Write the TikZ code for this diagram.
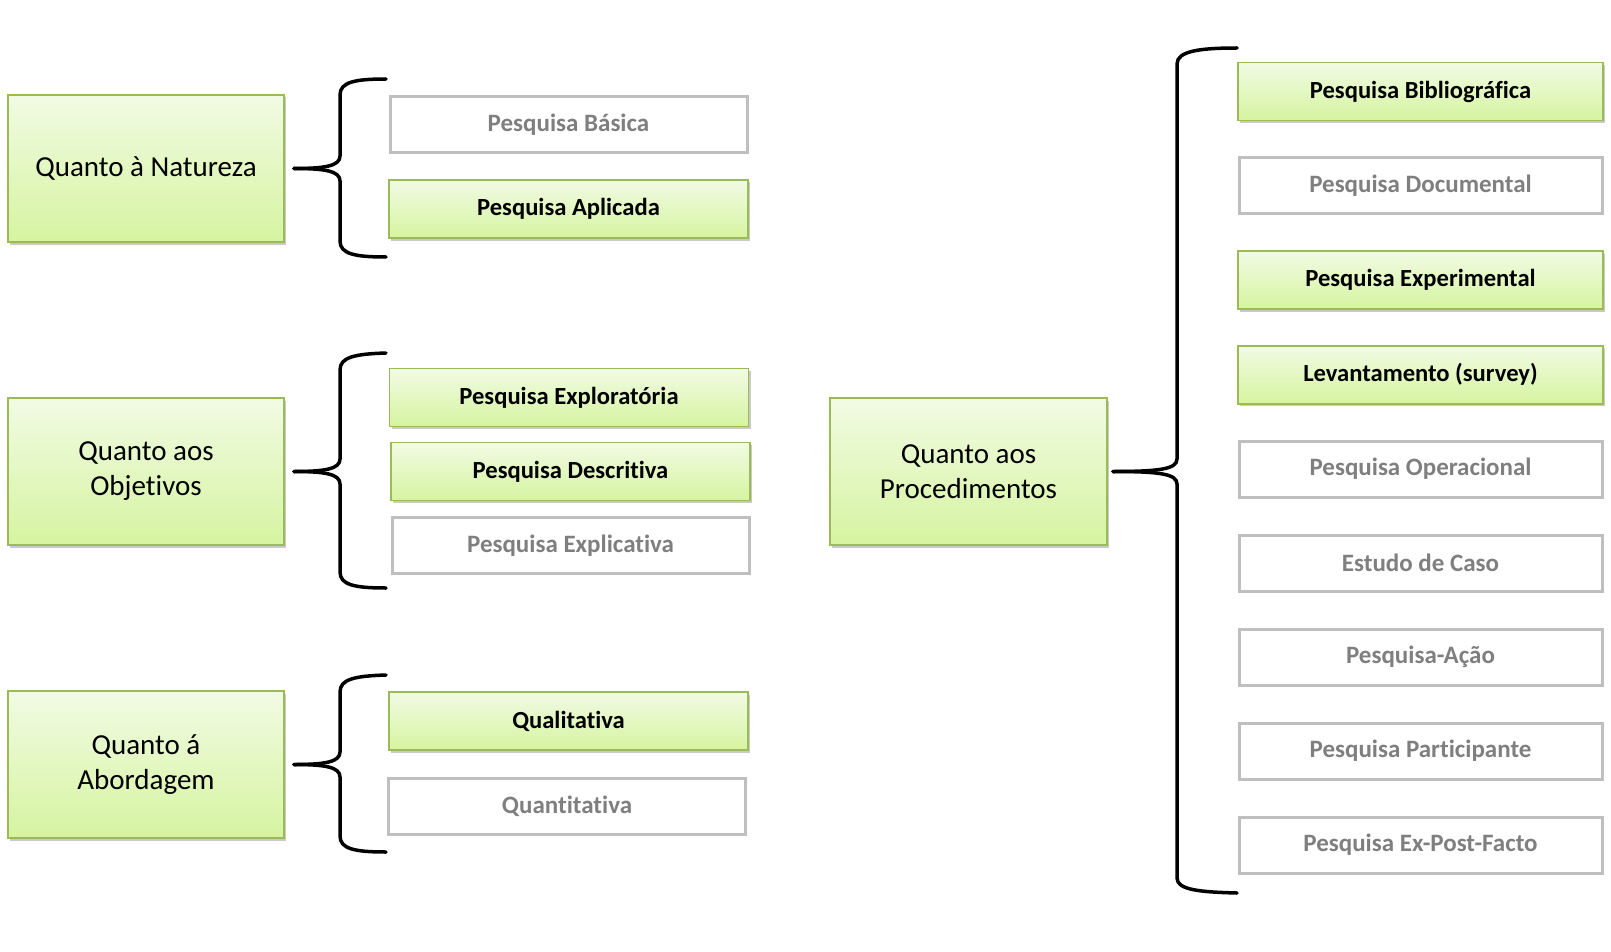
\documentclass[tikz,border=0pt]{standalone}
\usepackage{fontspec}
\setmainfont[Ligatures=NoCommon]{Carlito}
\usetikzlibrary{positioning, shadows}
\definecolor{verdetopo}{HTML}{F1FBE4}
\definecolor{verdebase}{HTML}{D6F4A0}
\definecolor{verdeborda}{HTML}{9BBB59}
\definecolor{cinzaborda}{HTML}{BFBFBF}
\definecolor{cinzatexto}{HTML}{7F7F7F}

\begin{document}
\begin{tikzpicture}[x=1pt,y=-1pt,node distance=35pt]
  \tikzset{
    base/.style={rectangle,inner sep=2pt,align=center},
    grupo/.style={base,draw=verdeborda,line width=1.6pt,top color=verdetopo,bottom color=verdebase,
      minimum width=276pt,minimum height=147pt,font=\fontsize{29}{35}\selectfont,
      drop shadow={shadow xshift=2pt,shadow yshift=-2.5pt,opacity=.35,fill=black!60}},
    ativo/.style={base,draw=verdeborda,line width=1.6pt,top color=verdetopo,bottom color=verdebase,
      minimum width=359pt,minimum height=58pt,font=\fontsize{24.6}{29}\selectfont\bfseries,
      drop shadow={shadow xshift=2pt,shadow yshift=-2.5pt,opacity=.35,fill=black!60}},
    inativo/.style={base,draw=cinzaborda,line width=3pt,fill=white,text=cinzatexto,
      minimum width=357pt,minimum height=56pt,font=\fontsize{25}{29}\selectfont\bfseries},
    chave/.style={line width=3.5pt,line cap=round,line join=round}
  }
  \useasboundingbox (0,0) rectangle (1611,952);

  % grupos
  \node[grupo] (natureza)   at (146,168.5)  {Quanto à Natureza};
  \node[grupo] (objetivos)  at (146,471.5)  {Quanto aos\\Objetivos};
  \node[grupo] (abordagem)  at (146,764.5)  {Quanto á\\Abordagem};
  \node[grupo,minimum width=277pt] (procedimentos) at (968.5,471.5) {Quanto aos\\Procedimentos};

  % natureza
  \node[inativo] (basica)   at (568.5,124.5) {Pesquisa Básica};
  \node[ativo]   (aplicada) at (568.5,209)   {Pesquisa Aplicada};

  % objetivos
  \node[ativo]   (exploratoria) at (569,397.5)   {Pesquisa Exploratória};
  \node[ativo]   (descritiva)   at (570.5,471.5) {Pesquisa Descritiva};
  \node[inativo] (explicativa)  at (570.5,545.5) {Pesquisa Explicativa};

  % abordagem
  \node[ativo]   (qualitativa)  at (568.5,721) {Qualitativa};
  \node[inativo] (quantitativa) at (567,806)   {Quantitativa};

  % procedimentos
  \node[ativo,minimum width=365pt]    (bibliografica) at (1420.5,91.5) {Pesquisa Bibliográfica};
  \node[inativo,minimum width=363pt]  (documental)   [below=of bibliografica] {Pesquisa Documental};
  \node[ativo,minimum width=365pt]    (experimental) [below=of documental]    {Pesquisa Experimental};
  \node[ativo,minimum width=365pt]    (levantamento) [below=of experimental]  {Levantamento (survey)};
  \node[inativo,minimum width=363pt]  (operacional)  [below=of levantamento]  {Pesquisa Operacional};
  \node[inativo,minimum width=363pt]  (estudo)       [below=of operacional]   {Estudo de Caso};
  \node[inativo,minimum width=363pt]  (acao)         [below=of estudo]        {Pesquisa-Ação};
  \node[inativo,minimum width=363pt]  (participante) [below=of acao]          {Pesquisa Participante};
  \node[inativo,minimum width=363pt]  (expost)       [below=of participante]  {Pesquisa Ex-Post-Facto};

  % chaves
  \draw[chave] ([xshift=9pt]natureza.east)
    .. controls (325,168.5) and (340,166) .. (340,156) -- (340,95)
    .. controls (340,82) and (355,79) .. (386,79);
  \draw[chave] ([xshift=9pt]natureza.east)
    .. controls (325,168.5) and (340,171) .. (340,181) -- (340,241)
    .. controls (340,254) and (355,257) .. (386,257);

  \draw[chave] ([xshift=9pt]objetivos.east)
    .. controls (325,471.5) and (340,469) .. (340,459) -- (340,370)
    .. controls (340,357) and (355,354) .. (386,353);
  \draw[chave] ([xshift=9pt]objetivos.east)
    .. controls (325,471.5) and (340,474) .. (340,484) -- (340,572)
    .. controls (340,585) and (355,588) .. (386,588);

  \draw[chave] ([xshift=9pt]abordagem.east)
    .. controls (325,764.5) and (340,762) .. (340,752) -- (340,692)
    .. controls (340,679) and (355,676) .. (386,675);
  \draw[chave] ([xshift=9pt]abordagem.east)
    .. controls (325,764.5) and (340,767) .. (340,777) -- (340,836)
    .. controls (340,849) and (355,852) .. (386,852);

  \draw[chave] ([xshift=5pt]procedimentos.east)
    .. controls (1160,471.5) and (1177,469) .. (1177,459) -- (1177,64)
    .. controls (1177,51) and (1200,48) .. (1237,48);
  \draw[chave] ([xshift=5pt]procedimentos.east)
    .. controls (1160,471.5) and (1177,474) .. (1177,484) -- (1177,878)
    .. controls (1177,890) and (1200,892) .. (1237,893);
\end{tikzpicture}
\end{document}
